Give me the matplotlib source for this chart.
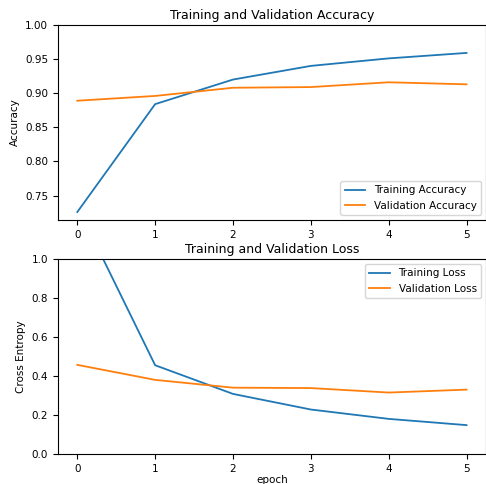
import matplotlib
matplotlib.use("Agg")
import matplotlib.pyplot as plt

epochs = [0, 1, 2, 3, 4, 5]
acc = [0.726, 0.884, 0.920, 0.940, 0.951, 0.959]
val_acc = [0.889, 0.896, 0.908, 0.909, 0.916, 0.913]
loss = [1.27, 0.455, 0.308, 0.228, 0.180, 0.148]
val_loss = [0.457, 0.380, 0.340, 0.338, 0.315, 0.330]

fig = plt.figure(figsize=(4.86, 4.84), dpi=100)

# accuracy
ax1 = fig.add_axes([0.119, 0.5455, 0.881, 0.403])
ax1.plot(epochs, acc, label='Training Accuracy', lw=1.3)
ax1.plot(epochs, val_acc, label='Validation Accuracy', lw=1.3)
ax1.legend(loc='lower right', fontsize=7.5)
ax1.set_ylabel('Accuracy', fontsize=7.5)
ax1.set_ylim([min(ax1.get_ylim()), 1])
ax1.set_title('Training and Validation Accuracy', fontsize=9, pad=4)
ax1.tick_params(labelsize=7.5)

# loss
ax2 = fig.add_axes([0.119, 0.062, 0.881, 0.403])
ax2.plot(epochs, loss, label='Training Loss', lw=1.3)
ax2.plot(epochs, val_loss, label='Validation Loss', lw=1.3)
ax2.legend(loc='upper right', fontsize=7.5)
ax2.set_ylabel('Cross Entropy', fontsize=7.5)
ax2.set_ylim([0, 1.0])
ax2.set_title('Training and Validation Loss', fontsize=9, pad=4)
ax2.set_xlabel('epoch', fontsize=7.5, labelpad=1)
ax2.tick_params(labelsize=7.5)

fig.savefig('out.png', dpi=100)
